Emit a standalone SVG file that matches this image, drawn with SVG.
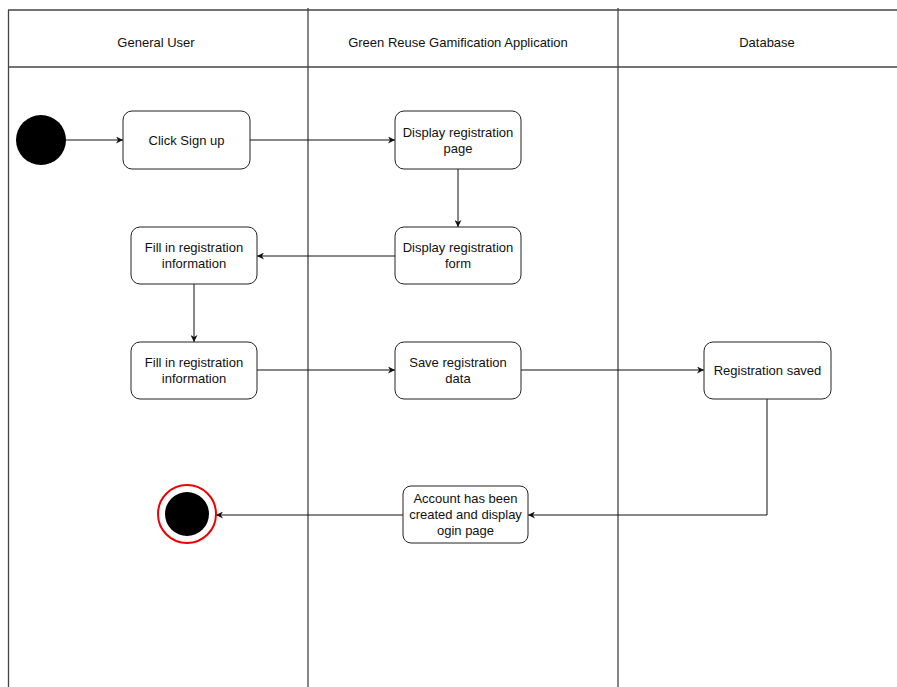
<svg xmlns="http://www.w3.org/2000/svg" width="897" height="687" viewBox="0 0 897 687">
  <style>
    .lane { stroke: #444; stroke-width: 1.3; fill: none; }
    .box { fill: #fff; stroke: #222; stroke-width: 1; }
    .lbl { font-family: "Liberation Sans", Arial, sans-serif; font-size: 13px; fill: #111; text-anchor: middle; }
    .edge { stroke: #111; stroke-width: 1; fill: none; }
  </style>
  <defs>
    <marker id="arrow" viewBox="0 0 10 10" refX="10" refY="5" markerWidth="7" markerHeight="7" markerUnits="userSpaceOnUse" orient="auto">
      <path d="M0,0 L10,5 L0,10 L3,5 Z" fill="#111"/>
    </marker>
  </defs>
  <rect width="897" height="687" fill="#fff"/>

  <!-- swimlane frame -->
  <g id="lanes">
    <line class="lane" x1="8" y1="10" x2="897" y2="10"/>
    <line class="lane" x1="8" y1="67" x2="897" y2="67"/>
    <line class="lane" x1="8.5" y1="10" x2="8.5" y2="687"/>
    <line class="lane" x1="308" y1="8" x2="308" y2="687"/>
    <line class="lane" x1="618" y1="8" x2="618" y2="687"/>
    <text class="lbl" x="156" y="47">General User</text>
    <text class="lbl" x="458" y="47">Green Reuse Gamification Application</text>
    <text class="lbl" x="767" y="47">Database</text>
  </g>

  <!-- connectors -->
  <g id="connectors">
    <line class="edge" x1="66" y1="140" x2="123" y2="140" marker-end="url(#arrow)"/>
    <line class="edge" x1="250" y1="140" x2="395" y2="140" marker-end="url(#arrow)"/>
    <line class="edge" x1="458" y1="169" x2="458" y2="227" marker-end="url(#arrow)"/>
    <line class="edge" x1="395" y1="256" x2="257" y2="256" marker-end="url(#arrow)"/>
    <line class="edge" x1="194" y1="284" x2="194" y2="342" marker-end="url(#arrow)"/>
    <line class="edge" x1="257" y1="370" x2="395" y2="370" marker-end="url(#arrow)"/>
    <line class="edge" x1="521" y1="370" x2="704" y2="370" marker-end="url(#arrow)"/>
    <polyline class="edge" points="767,399 767,515 528,515" marker-end="url(#arrow)"/>
    <line class="edge" x1="403" y1="515" x2="216" y2="515" marker-end="url(#arrow)"/>
  </g>

  <g id="start">
    <circle cx="41" cy="140" r="25" fill="#000"/>
  </g>

  <g id="click-sign-up">
    <rect class="box" x="123" y="111" width="127" height="58" rx="9"/>
    <text class="lbl" x="186.5" y="144.5">Click Sign up</text>
  </g>

  <g id="display-registration-page">
    <rect class="box" x="395" y="111" width="126" height="58" rx="9"/>
    <text class="lbl" x="458" y="136.5">Display registration</text>
    <text class="lbl" x="458" y="152.5">page</text>
  </g>

  <g id="display-registration-form">
    <rect class="box" x="395" y="227" width="126" height="57" rx="9"/>
    <text class="lbl" x="458" y="252">Display registration</text>
    <text class="lbl" x="458" y="268">form</text>
  </g>

  <g id="fill-registration-1">
    <rect class="box" x="131" y="227" width="126" height="57" rx="9"/>
    <text class="lbl" x="194" y="252">Fill in registration</text>
    <text class="lbl" x="194" y="268">information</text>
  </g>

  <g id="fill-registration-2">
    <rect class="box" x="131" y="342" width="126" height="57" rx="9"/>
    <text class="lbl" x="194" y="367">Fill in registration</text>
    <text class="lbl" x="194" y="383">information</text>
  </g>

  <g id="save-registration-data">
    <rect class="box" x="395" y="342" width="126" height="57" rx="9"/>
    <text class="lbl" x="458" y="367">Save registration</text>
    <text class="lbl" x="458" y="383">data</text>
  </g>

  <g id="registration-saved">
    <rect class="box" x="704" y="342" width="127" height="57" rx="9"/>
    <text class="lbl" x="767.5" y="375">Registration saved</text>
  </g>

  <g id="account-created">
    <rect class="box" x="403" y="486" width="125" height="57" rx="8" stroke="#555"/>
    <text class="lbl" x="465.5" y="503">Account has been</text>
    <text class="lbl" x="465.5" y="519">created and display</text>
    <text class="lbl" x="465.5" y="535">ogin page</text>
  </g>

  <g id="end">
    <circle cx="187" cy="514" r="29" fill="#fff" stroke="#e00" stroke-width="2"/>
    <circle cx="187" cy="514" r="22" fill="#000"/>
  </g>
</svg>
